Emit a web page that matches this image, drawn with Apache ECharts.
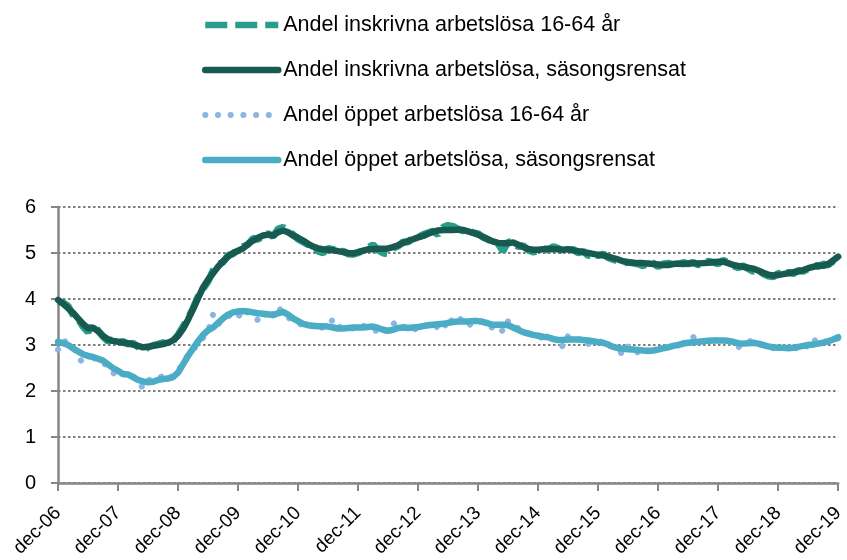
<!DOCTYPE html>
<html>
	<head>
		<meta charset="utf-8" />
		<title>Arbetslöshet</title>
		<style>
			html, body { margin: 0; padding: 0; background: #fff; }
			#chart { width: 847px; height: 560px; }
		</style>
	</head>
	<body>
		<div id="chart"></div>

		<script src="https://cdn.jsdelivr.net/npm/echarts@6/dist/echarts.min.js" type="text/javascript" charset="utf-8"></script>
		<script type="text/javascript">
			// månader dec-06 .. dec-19
			var monthNames = ["jan","feb","mar","apr","maj","jun","jul","aug","sep","okt","nov","dec"];
			var years = ["06","07","08","09","10","11","12","13","14","15","16","17","18","19"];

			var seriesNames = [
				"Andel inskrivna arbetslösa 16-64 år",
				"Andel inskrivna arbetslösa, säsongsrensat",
				"Andel öppet arbetslösa 16-64 år",
				"Andel öppet arbetslösa, säsongsrensat"
			];

			var yTicks = [0, 1, 2, 3, 4, 5, 6];

			// inskrivna, ej säsongsrensat
			var inskrivna = [
				3.95,3.92,3.85,3.66,3.56,3.40,3.28,3.46,3.32,3.18,3.08,3.12,
				3.05,3.08,3.02,3.04,2.96,2.88,2.95,2.99,3.02,3.05,3.02,3.08,
				3.22,3.40,3.58,3.80,4.05,4.22,4.38,4.62,4.75,4.80,4.95,4.98,
				5.08,5.14,5.18,5.32,5.30,5.36,5.42,5.36,5.52,5.56,5.48,5.40,
				5.30,5.24,5.18,5.16,5.04,5.00,5.10,5.08,5.02,5.04,4.98,4.97,
				5.00,5.06,5.12,5.18,5.06,5.00,4.98,5.10,5.15,5.24,5.24,5.33,
				5.34,5.40,5.44,5.48,5.40,5.56,5.60,5.58,5.52,5.48,5.50,5.44,
				5.42,5.34,5.30,5.22,5.20,5.04,5.25,5.22,5.14,5.16,5.06,5.02,
				5.05,5.10,5.06,5.14,5.10,5.04,5.06,5.08,5.00,5.04,4.94,4.98,
				4.94,4.98,4.90,4.86,4.82,4.78,4.80,4.78,4.76,4.72,4.80,4.78,
				4.70,4.76,4.78,4.74,4.72,4.80,4.76,4.80,4.74,4.78,4.82,4.80,
				4.76,4.84,4.80,4.72,4.68,4.72,4.66,4.60,4.64,4.55,4.50,4.48,
				4.56,4.53,4.58,4.55,4.62,4.60,4.66,4.74,4.70,4.76,4.74,4.82,
				4.90
			];

			// inskrivna, säsongsrensat
			var inskrivnaSA = [
				3.98,3.90,3.80,3.70,3.58,3.46,3.36,3.38,3.30,3.20,3.12,3.09,
				3.07,3.05,3.04,3.01,2.98,2.95,2.96,2.98,3.00,3.02,3.05,3.10,
				3.20,3.35,3.55,3.78,4.02,4.25,4.42,4.56,4.70,4.82,4.92,5.00,
				5.05,5.10,5.20,5.27,5.33,5.38,5.40,5.38,5.45,5.49,5.45,5.38,
				5.33,5.27,5.20,5.14,5.10,5.08,5.07,5.06,5.04,5.02,5.00,4.99,
				5.02,5.05,5.08,5.08,5.09,5.09,5.10,5.13,5.17,5.22,5.26,5.30,
				5.34,5.37,5.42,5.46,5.49,5.50,5.50,5.50,5.51,5.50,5.47,5.44,
				5.40,5.35,5.29,5.25,5.22,5.21,5.21,5.23,5.18,5.13,5.09,5.07,
				5.07,5.08,5.09,5.08,5.08,5.07,5.08,5.06,5.04,5.02,5.00,4.98,
				4.96,4.95,4.92,4.89,4.86,4.82,4.80,4.79,4.78,4.78,4.77,4.76,
				4.75,4.74,4.74,4.76,4.77,4.76,4.77,4.78,4.77,4.78,4.79,4.80,
				4.81,4.81,4.78,4.74,4.72,4.70,4.68,4.66,4.62,4.57,4.53,4.51,
				4.52,4.54,4.56,4.58,4.60,4.63,4.67,4.70,4.73,4.72,4.76,4.84,
				4.92
			];

			// öppet arbetslösa, ej säsongsrensat
			var oppet = [
				2.90,3.10,3.05,2.95,2.75,2.60,2.85,2.75,2.62,2.60,2.55,2.40,
				2.28,2.38,2.40,2.32,2.22,2.06,2.22,2.30,2.30,2.32,2.24,2.35,
				2.45,2.60,2.80,2.88,3.05,3.15,3.30,3.66,3.45,3.55,3.62,3.68,
				3.60,3.78,3.70,3.62,3.54,3.52,3.78,3.66,3.82,3.70,3.60,3.52,
				3.48,3.42,3.45,3.40,3.31,3.40,3.42,3.56,3.40,3.38,3.35,3.36,
				3.35,3.42,3.40,3.35,3.28,3.23,3.40,3.49,3.36,3.40,3.38,3.31,
				3.40,3.44,3.42,3.48,3.36,3.48,3.36,3.62,3.60,3.52,3.41,3.50,
				3.55,3.50,3.45,3.36,3.40,3.29,3.52,3.40,3.37,3.30,3.26,3.20,
				3.18,3.15,3.20,3.12,3.08,2.96,3.20,3.20,3.12,3.15,3.02,3.08,
				3.05,3.10,3.00,2.95,2.90,2.78,2.98,2.96,2.82,2.90,2.88,2.86,
				2.92,2.90,2.96,2.98,3.02,3.05,3.04,3.18,3.05,3.08,3.10,3.09,
				3.12,3.10,3.08,3.05,2.95,3.02,3.06,3.12,3.04,2.98,2.95,2.93,
				2.92,2.94,2.95,2.88,2.96,2.90,3.00,3.14,3.02,3.06,3.10,3.12,
				3.14
			];

			// öppet arbetslösa, säsongsrensat
			var oppetSA = [
				3.07,3.04,3.00,2.93,2.86,2.80,2.76,2.74,2.70,2.66,2.58,2.50,
				2.44,2.37,2.36,2.30,2.24,2.21,2.19,2.20,2.24,2.26,2.27,2.30,
				2.40,2.58,2.76,2.92,3.08,3.22,3.32,3.38,3.48,3.58,3.66,3.71,
				3.73,3.74,3.73,3.71,3.69,3.68,3.67,3.65,3.69,3.72,3.66,3.58,
				3.52,3.46,3.43,3.42,3.41,3.41,3.40,3.38,3.36,3.36,3.37,3.38,
				3.38,3.38,3.39,3.40,3.37,3.33,3.31,3.33,3.37,3.38,3.37,3.38,
				3.39,3.41,3.43,3.44,3.45,3.46,3.48,3.50,3.51,3.51,3.51,3.52,
				3.52,3.50,3.47,3.44,3.44,3.44,3.43,3.38,3.33,3.28,3.25,3.22,
				3.20,3.18,3.17,3.13,3.11,3.11,3.12,3.12,3.12,3.11,3.10,3.08,
				3.06,3.05,3.01,2.96,2.93,2.92,2.91,2.90,2.89,2.88,2.87,2.88,
				2.90,2.93,2.95,2.98,3.00,3.03,3.05,3.06,3.07,3.08,3.09,3.10,
				3.10,3.10,3.09,3.07,3.04,3.03,3.04,3.05,3.03,3.00,2.97,2.95,
				2.94,2.94,2.93,2.94,2.96,2.98,3.00,3.01,3.03,3.05,3.08,3.12,
				3.17
			];

			// kategorier
			var months = ["dec-06"];
			for (var y = 1; y < years.length; y++) {
				for (var m = 0; m < 12; m++) {
					months.push(monthNames[m] + "-" + years[y]);
				}
			}

			var font = "Liberation Sans";
			var colors = ["#2a9c8a", "#175a50", "#8db4e3", "#4bacc6"];
			var lineStyles = [
				{ width: 6.5, type: [22, 8], color: colors[0] },
				{ width: 6.5, color: colors[1], cap: "round" },
				{ width: 6, type: [0.1, 12.6], cap: "round", color: colors[2] },
				{ width: 6.5, color: colors[3], cap: "round" }
			];

			// legend utan symbol, bara linjen
			var legendData = seriesNames.map(function(name, i){
				return {
					name: name,
					itemStyle: { opacity: 0 },
					lineStyle: lineStyles[i]
				};
			});

			var seriesList = seriesNames.map(function(name, i){
				return {
					name: name,
					type: "line",
					data: [inskrivna, inskrivnaSA, oppet, oppetSA][i],
					symbol: "none",
					color: colors[i],
					lineStyle: i == 0 ? { width: 7, type: [22, 8], color: colors[0] } : lineStyles[i]
				};
			});

			var myChart = echarts.init(document.getElementById("chart"));
			myChart.setOption({
				animation: false,
				textStyle: { fontFamily: font },
				legend: {
					orient: "vertical",
					left: 197,
					top: 9,
					itemWidth: 73,
					itemHeight: 14,
					itemGap: 23,
					textStyle: { fontFamily: font, fontSize: 21.5, color: "#000", lineHeight: 22 },
					data: legendData
				},
				grid: {
					left: 58,
					right: 1,
					top: 207,
					bottom: 77
				},
				xAxis: {
					type: "category",
					data: months,
					boundaryGap: false,
					axisLine: { lineStyle: { color: "#868686", width: 2.5 } },
					axisTick: { interval: 11, length: 8, lineStyle: { color: "#868686", width: 2 } },
					axisLabel: {
						interval: 11,
						rotate: 45,
						margin: 27,
						fontFamily: font,
						fontSize: 19,
						color: "#000"
					},
					splitLine: { show: false }
				},
				yAxis: {
					type: "value",
					min: yTicks[0],
					max: yTicks[yTicks.length - 1],
					interval: 1,
					axisLine: { show: true, lineStyle: { color: "#868686", width: 2.5 } },
					axisTick: { show: true, length: 7, lineStyle: { color: "#868686", width: 2 } },
					axisLabel: { fontFamily: font, fontSize: 20, color: "#000", margin: 22 },
					splitLine: { lineStyle: { color: "#7f7f7f", width: 2, type: [2.5, 2.5] } }
				},
				series: seriesList
			});
		</script>
	</body>
</html>
